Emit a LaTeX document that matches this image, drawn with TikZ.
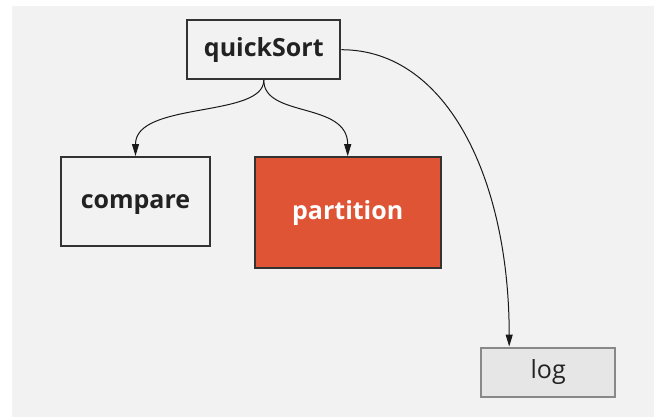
\documentclass[tikz,border=0pt]{standalone}
\usepackage{fontspec}
\setmainfont{Open Sans}
\usetikzlibrary{arrows.meta}
\definecolor{canvas}{HTML}{F2F2F2}
\definecolor{ink}{HTML}{222222}
\definecolor{frame}{HTML}{333333}
\definecolor{accent}{HTML}{E05436}
\definecolor{muted}{HTML}{E6E6E6}
\definecolor{mutedline}{HTML}{888888}
\begin{document}
\begin{tikzpicture}[x=1bp,y=-1bp,
  box/.style={rectangle, draw=frame, line width=2bp, inner sep=0pt,
    text height=17.5bp, text depth=4bp,
    text=ink, font=\bfseries\fontsize{25bp}{30bp}\selectfont},
  plainbox/.style={box, fill=canvas},
  hotbox/.style={box, fill=accent, text=white},
  quietbox/.style={box, fill=muted, draw=mutedline,
    font=\fontsize{25bp}{30bp}\selectfont},
  link/.style={-{Triangle[length=12bp,width=7bp]}, line width=1bp, draw=black!90}]
\useasboundingbox (0,0) rectangle (654,417);
\fill[white] (0,0) rectangle (654,417);
\fill[canvas] (12,6) rectangle (654,417);

\node[plainbox, minimum width=153bp, minimum height=59bp] (qs) at (263.8,49.7) {quickSort};
\node[plainbox, minimum width=149bp, minimum height=89bp] (cmp) at (135.5,201.5) {compare};
\node[hotbox, minimum width=186bp, minimum height=111bp] (part) at (347.7,212.7) {partition};
\node[quietbox, minimum width=134bp, minimum height=49bp] (log) at (548.2,372) {log};

\draw[link] (qs.south) .. controls +(0,38) and +(0,-55) .. (cmp.north);
\draw[link] (qs.south) .. controls +(0,38) and +(0,-55) .. (part.north);
\draw[link] (qs.east) .. controls +(107,0) and +(0,-165) .. ([xshift=-39bp]log.north);
\end{tikzpicture}
\end{document}
